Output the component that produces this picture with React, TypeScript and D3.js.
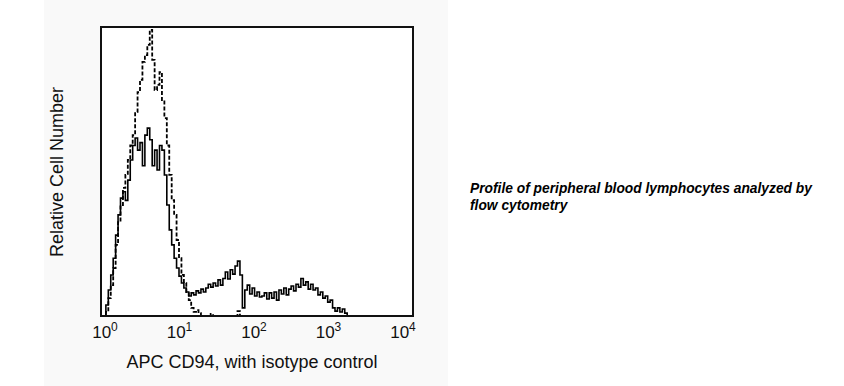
import React, { useEffect, useRef } from 'react';
import * as d3 from 'd3';

// 128 log-spaced channels over 10^0..10^4
const binCount = 128;
const decades = [0, 1, 2, 3, 4];

// CD94 stained (solid)
const stainedCounts = [
  0, 0, 3.8, 9, 14.2, 20, 28, 35, 40.8, 43, 40, 47, 54, 59, 61.6, 57.4, 60, 52, 62.6, 65,
  61, 52, 57.4, 50.5, 59, 57.4, 48.8, 38.4, 29.8, 24.6, 20, 16.6, 13.8, 11.4, 9.7, 8.3, 6.9, 8, 7.3, 8.7,
  8, 9.3, 8.3, 9.7, 11, 10, 11.4, 10.4, 12.5, 10.7, 13, 15.2, 12.8, 16, 14.5, 17.3, 19, 14.2, 2.8, 9,
  10.7, 7.6, 9.7, 6.9, 8.3, 6.6, 6.9, 8, 5.9, 8, 6.2, 8.3, 5.5, 9, 7.6, 9.7, 7.3, 9.3, 10.4, 8.7,
  11, 10, 13, 10.7, 11.8, 9.3, 11, 9, 9.7, 7.3, 8.3, 6.2, 6.9, 4.8, 5.5, 2.8, 1.7, 2.8, 1.4, 2.4,
  1, 0,
];

// isotype control (dashed)
const isotypeCounts = [
  0, 0, 1.4, 6.2, 10.7, 16.6, 24.6, 32.5, 38.4, 44.3, 48.8, 54, 59, 62.6, 70.6, 77.5, 81.7, 87.9, 90.3, 93.8,
  99, 88.6, 78.2, 80, 84.4, 74.7, 68.5, 59, 48.8, 40.1, 35, 26.3, 20, 14.2, 11.4, 8.3, 5.5, 2.8, 1.4, 2,
  1, 0, 0, 0, 0, 0.7, 0, 0, 0, 0, 0, 0, 0, 0, 0, 0, 1.7, 0,
];

const xTitle = 'APC CD94, with isotype control';
const yTitle = 'Relative Cell Number';
const captionLines = ['Profile of peripheral blood lymphocytes analyzed by', 'flow cytometry'];

export default function App() {
  const svgRef = useRef<SVGSVGElement>(null);

  useEffect(() => {
    const width = 844;
    const height = 386;
    const frame = { left: 101, top: 27, right: 413, bottom: 316 };
    const font = 'Liberation Sans, Arial, sans-serif';

    const svg = d3.select(svgRef.current);
    svg.selectAll('*').remove();
    svg.attr('width', width).attr('height', height);

    // gray backdrop
    svg.append('rect').attr('x', 44).attr('y', 0).attr('width', 404).attr('height', height).attr('fill', '#f9f9f9');

    const x = d3.scaleLinear().domain([0, binCount]).range([frame.left, frame.right]);
    const y = d3.scaleLinear().domain([0, 100]).range([frame.bottom, frame.top]);
    const labelX = d3.scaleLinear().domain([0, 4]).range([105, 403]);

    svg.append('rect')
      .attr('x', frame.left).attr('y', frame.top)
      .attr('width', frame.right - frame.left).attr('height', frame.bottom - frame.top)
      .attr('fill', '#fff');

    const stepPath = (counts: number[]) => {
      const pts: [number, number][] = [];
      counts.forEach((c, i) => {
        pts.push([i, c]);
        pts.push([i + 1, c]);
      });
      return d3.line<[number, number]>().x(d => x(d[0])).y(d => y(d[1]))(pts);
    };

    svg.append('path')
      .attr('d', stepPath(isotypeCounts))
      .attr('fill', 'none').attr('stroke', '#000').attr('stroke-width', 1.8)
      .attr('stroke-dasharray', '4,2');

    svg.append('path')
      .attr('d', stepPath(stainedCounts))
      .attr('fill', 'none').attr('stroke', '#000').attr('stroke-width', 1.6);

    svg.append('rect')
      .attr('x', frame.left).attr('y', frame.top)
      .attr('width', frame.right - frame.left).attr('height', frame.bottom - frame.top)
      .attr('fill', 'none').attr('stroke', '#111').attr('stroke-width', 2);

    // tick labels 10^k
    decades.forEach(k => {
      const t = svg.append('text')
        .attr('x', labelX(k)).attr('y', 338)
        .attr('text-anchor', 'middle')
        .style('font-family', font).style('font-size', '17px').attr('fill', '#111');
      t.append('tspan').text('10');
      t.append('tspan').attr('dy', -7).style('font-size', '12px').text(String(k));
    });

    svg.append('text')
      .attr('x', 252).attr('y', 368)
      .attr('text-anchor', 'middle')
      .style('font-family', font).style('font-size', '18px').attr('fill', '#111')
      .text(xTitle);

    svg.append('text')
      .attr('transform', 'translate(63,172) rotate(-90)')
      .attr('text-anchor', 'middle')
      .style('font-family', font).style('font-size', '18px').attr('fill', '#111')
      .text(yTitle);

    captionLines.forEach((line, i) => {
      svg.append('text')
        .attr('x', 470).attr('y', 193 + i * 17)
        .style('font-family', font).style('font-size', '13.8px')
        .style('font-weight', 'bold').style('font-style', 'italic')
        .attr('fill', '#000')
        .text(line);
    });
  }, []);

  return (
    <svg ref={svgRef} style={{ position: 'absolute', left: 0, top: 0, display: 'block' }} />
  );
}
